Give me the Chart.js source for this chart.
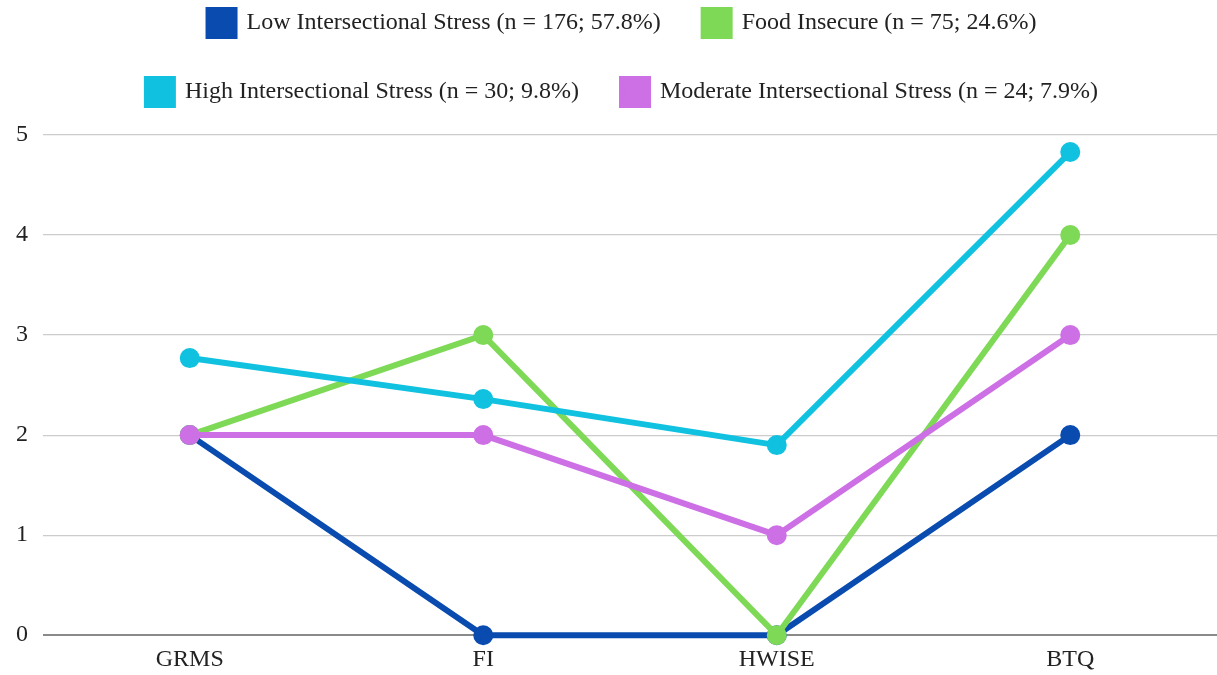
<!DOCTYPE html>
<html>
<head>
<meta charset="utf-8">
<script src="https://cdn.jsdelivr.net/npm/chart.js@4"></script>
<style>
  html, body { margin: 0; padding: 0; background: #fff; overflow: hidden; }
  #wrap { position: relative; width: 1217px; height: 675px; }
</style>
</head>
<body>
<div id="wrap"><canvas id="stressChart"></canvas></div>
<script>
const categories = ["GRMS", "FI", "HWISE", "BTQ"];
const yTicks = [0, 1, 2, 3, 4, 5];

const lowStress = [2, 0, 0, 2];
const foodInsecure = [2, 3, 0, 4];
const highStress = [2.77, 2.36, 1.9, 4.83];
const moderateStress = [2, 2, 1, 3];

const seriesNames = [
  "Low Intersectional Stress (n = 176; 57.8%)",
  "Food Insecure (n = 75; 24.6%)",
  "High Intersectional Stress (n = 30; 9.8%)",
  "Moderate Intersectional Stress (n = 24; 7.9%)",
];
const seriesColors = ["#0a4bb0", "#7ed957", "#10c1e0", "#cd6fe5"];

const serif = "'Liberation Serif', 'Times New Roman', serif";

// extra room below the legend rows, and nudge the rows a bit to the right
const legendPlacement = {
  id: "legendPlacement",
  beforeInit(chart) {
    const origFit = chart.legend.fit;
    chart.legend.fit = function fit() {
      origFit.bind(chart.legend)();
      this.height += 20;
    };
  },
  afterLayout(chart) {
    chart.legend.left += 8;
    chart.legend.right += 8;
  },
};

function makeSeries(label, data, color, order) {
  return {
    label,
    data,
    borderColor: color,
    backgroundColor: color,
    pointBackgroundColor: color,
    pointBorderColor: color,
    borderWidth: 6,
    pointRadius: 7,
    pointHoverRadius: 7,
    tension: 0,
    clip: false,
    order,
  };
}

const ctx = document.getElementById("stressChart");
new Chart(ctx, {
  type: "line",
  data: {
    labels: categories,
    datasets: [
      makeSeries(seriesNames[0], lowStress, seriesColors[0], 4),
      makeSeries(seriesNames[1], foodInsecure, seriesColors[1], 3),
      makeSeries(seriesNames[2], highStress, seriesColors[2], 2),
      makeSeries(seriesNames[3], moderateStress, seriesColors[3], 1),
    ],
  },
  options: {
    responsive: true,
    maintainAspectRatio: false,
    animation: false,
    layout: {
      autoPadding: false,
      padding: { top: -33, right: 0, left: 12, bottom: -9 },
    },
    plugins: {
      tooltip: { enabled: false },
      legend: {
        position: "top",
        align: "center",
        labels: {
          boxWidth: 26,
          boxHeight: 26,
          padding: 43,
          color: "#222",
          font: { family: serif, size: 24 },
          sort: (a, b) => a.datasetIndex - b.datasetIndex,
        },
      },
    },
    scales: {
      x: {
        offset: true,
        grid: { display: false, drawTicks: false },
        border: { display: false },
        ticks: {
          color: "#222",
          padding: 10,
          font: { family: serif, size: 24 },
        },
      },
      y: {
        min: 0,
        max: 5,
        afterBuildTicks: (axis) => {
          axis.ticks = yTicks.map((v) => ({ value: v }));
        },
        afterFit: (axis) => {
          axis.width = 31;
        },
        border: { display: false },
        grid: {
          drawTicks: false,
          lineWidth: (c) => (c.tick && c.tick.value === 0 ? 2 : 1.2),
          color: (c) => (c.tick && c.tick.value === 0 ? "#8a8a8a" : "#cccccc"),
        },
        ticks: {
          color: "#222",
          padding: 15,
          font: { family: serif, size: 24 },
        },
      },
    },
  },
  plugins: [legendPlacement],
});
</script>
</body>
</html>
